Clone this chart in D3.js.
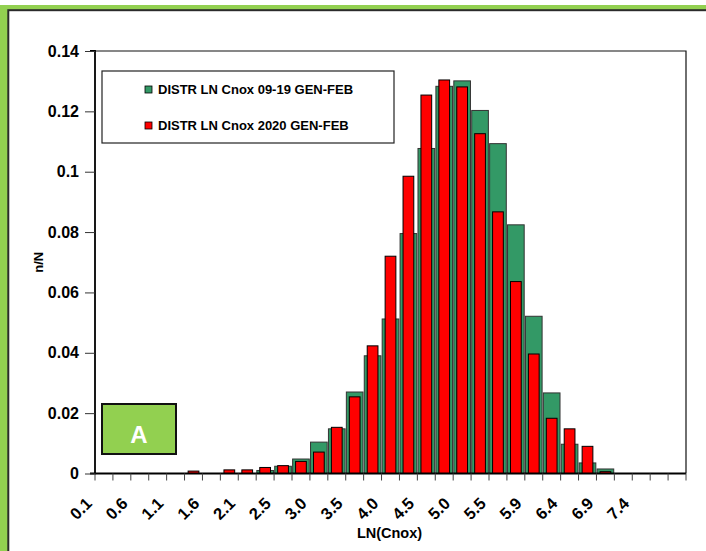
<!DOCTYPE html>
<html>
<head>
<meta charset="utf-8">
<script src="https://cdn.jsdelivr.net/npm/d3@7"></script>
<style>
  html, body { margin: 0; padding: 0; background: #fff; }
  svg { display: block; font-family: "Liberation Sans", Arial, sans-serif; }
</style>
</head>
<body>
<svg id="chart" width="706" height="551"></svg>
<script>
// LN(Cnox) bins (width ~0.243), labelled every other bin
const binLabels = ["0.1","","0.6","","1.1","","1.6","","2.1","","2.5","","3.0","","3.5","",
                   "4.0","","4.5","","5.0","","5.5","","5.9","","6.4","","6.9","","7.4","",""];

// relative frequency n/N, January-February 2009-2019
const freq0919 = [0,0,0,0,0,0,0,0,0,0.0010,0.0024,0.0048,0.0104,0.0148,0.0270,0.0390,
                  0.0512,0.0795,0.1077,0.1283,0.1301,0.1203,0.1093,0.0824,0.0521,0.0267,
                  0.0097,0.0035,0.0015,0,0,0,0];

// relative frequency n/N, January-February 2020
const freq2020 = [0,0,0,0,0,0.0008,0,0.0012,0.0012,0.0020,0.0026,0.0040,0.0071,0.0153,0.0254,0.0423,
                  0.0720,0.0985,0.1254,0.1304,0.1281,0.1126,0.0867,0.0636,0.0396,0.0183,
                  0.0148,0.0090,0.0006,0,0,0,0];

const yTicks = [0, 0.02, 0.04, 0.06, 0.08, 0.1, 0.12, 0.14];
const seriesNames = ["DISTR LN Cnox 09-19 GEN-FEB", "DISTR LN Cnox 2020 GEN-FEB"];
const seriesColors = ["#339966", "#ff0000"];
const panelLetter = "A";

const svg = d3.select("#chart");
const W = 706, H = 551;
const lime = "#92d050";

// outer frame: lime band with a dark inner rule
svg.append("rect").attr("x", -20).attr("y", 5).attr("width", W + 40).attr("height", H + 40).attr("fill", lime);
svg.append("rect").attr("x", 8.3).attr("y", 10.2).attr("width", W + 40).attr("height", H + 40)
   .attr("fill", "#fff").attr("stroke", "#2b2b2b").attr("stroke-width", 2);

const plot = { left: 95, right: 686, top: 51, bottom: 473.5 };

const x = d3.scaleBand()
  .domain(d3.range(binLabels.length))
  .range([plot.left, plot.right])
  .paddingInner(0).paddingOuter(0);

const y = d3.scaleLinear().domain([0, 0.14]).range([plot.bottom, plot.top]);

// plot area frame (top and right)
svg.append("path")
  .attr("d", `M${plot.left},${plot.top}H${plot.right}V${plot.bottom}`)
  .attr("fill", "none").attr("stroke", "#111").attr("stroke-width", 1.2);

// bars: wide green behind, narrow red in front
const bw = x.bandwidth();
const greenW = bw * 0.93, redW = bw * 0.6;

svg.append("g").selectAll("rect")
  .data(freq0919.map((v, i) => ({ i, v })).filter(d => d.v > 0))
  .join("rect")
  .attr("x", d => x(d.i) + (bw - greenW) / 2)
  .attr("y", d => y(d.v))
  .attr("width", greenW)
  .attr("height", d => y(0) - y(d.v))
  .attr("fill", seriesColors[0])
  .attr("stroke", "#333").attr("stroke-width", 1);

svg.append("g").selectAll("rect")
  .data(freq2020.map((v, i) => ({ i, v })).filter(d => d.v > 0))
  .join("rect")
  .attr("x", d => x(d.i) + (bw - redW) / 2)
  .attr("y", d => y(d.v))
  .attr("width", redW)
  .attr("height", d => y(0) - y(d.v))
  .attr("fill", seriesColors[1])
  .attr("stroke", "#000").attr("stroke-width", 1);

// y axis
const yAxis = d3.axisLeft(y).tickValues(yTicks).tickSize(10).tickPadding(6)
  .tickFormat(v => v === 0 ? "0" : String(+v.toFixed(2)));
const gy = svg.append("g").attr("transform", `translate(${plot.left},0)`).call(yAxis);
gy.select(".domain").attr("stroke", "#000").attr("stroke-width", 1.8).attr("d", `M-5,${plot.top}H0V${plot.bottom}H-5`);
gy.selectAll(".tick line").attr("stroke", "#333");
gy.selectAll(".tick text").attr("font-size", 16).attr("font-weight", "bold").attr("fill", "#000")
  .attr("font-family", "Liberation Sans, Arial, sans-serif");

// x axis: baseline, boundary ticks, rotated labels
svg.append("line").attr("x1", plot.left).attr("x2", plot.right)
  .attr("y1", plot.bottom).attr("y2", plot.bottom).attr("stroke", "#000").attr("stroke-width", 2);

svg.append("g").selectAll("line")
  .data(d3.range(binLabels.length + 1))
  .join("line")
  .attr("x1", i => plot.left + i * bw).attr("x2", i => plot.left + i * bw)
  .attr("y1", plot.bottom).attr("y2", plot.bottom + 7)
  .attr("stroke", "#444").attr("stroke-width", 1);

const xAxis = d3.axisBottom(x).tickSize(0).tickFormat(i => binLabels[i]);
const gx = svg.append("g").attr("transform", `translate(0,${plot.bottom})`).call(xAxis);
gx.select(".domain").remove();
gx.selectAll(".tick text")
  .attr("font-size", 16.5).attr("font-weight", "bold").attr("fill", "#000")
  .attr("font-family", "Liberation Sans, Arial, sans-serif")
  .attr("text-anchor", "end")
  .attr("dy", null).attr("y", null)
  .attr("transform", "translate(-11,31) rotate(-45)");

// axis titles
svg.append("text").attr("x", (plot.left + plot.right) / 2 - 1).attr("y", 538)
  .attr("text-anchor", "middle").attr("font-size", 14.5).attr("font-weight", "bold").text("LN(Cnox)");
svg.append("text").attr("transform", `translate(43,${(plot.top + plot.bottom) / 2}) rotate(-90)`)
  .attr("text-anchor", "middle").attr("font-size", 13).attr("font-weight", "bold").text("n/N");

// legend
const lg = svg.append("g");
lg.append("rect").attr("x", 102).attr("y", 71).attr("width", 292).attr("height", 72)
  .attr("fill", "#fff").attr("stroke", "#222").attr("stroke-width", 1.2);
seriesNames.forEach((name, i) => {
  const yy = 94 + i * 36;
  lg.append("rect").attr("x", 145).attr("y", yy - 8).attr("width", 7).attr("height", 7)
    .attr("fill", seriesColors[i]).attr("stroke", "#000").attr("stroke-width", 0.8);
  lg.append("text").attr("x", 158).attr("y", yy).attr("font-size", 13)
    .attr("font-weight", "bold").text(name);
});

// panel letter
svg.append("rect").attr("x", 102).attr("y", 404).attr("width", 74).attr("height", 50)
  .attr("fill", lime).attr("stroke", "#111").attr("stroke-width", 2);
svg.append("text").attr("x", 139).attr("y", 443).attr("text-anchor", "middle")
  .attr("font-size", 24).attr("font-weight", "bold").attr("fill", "#fff").text(panelLetter);
</script>
</body>
</html>
